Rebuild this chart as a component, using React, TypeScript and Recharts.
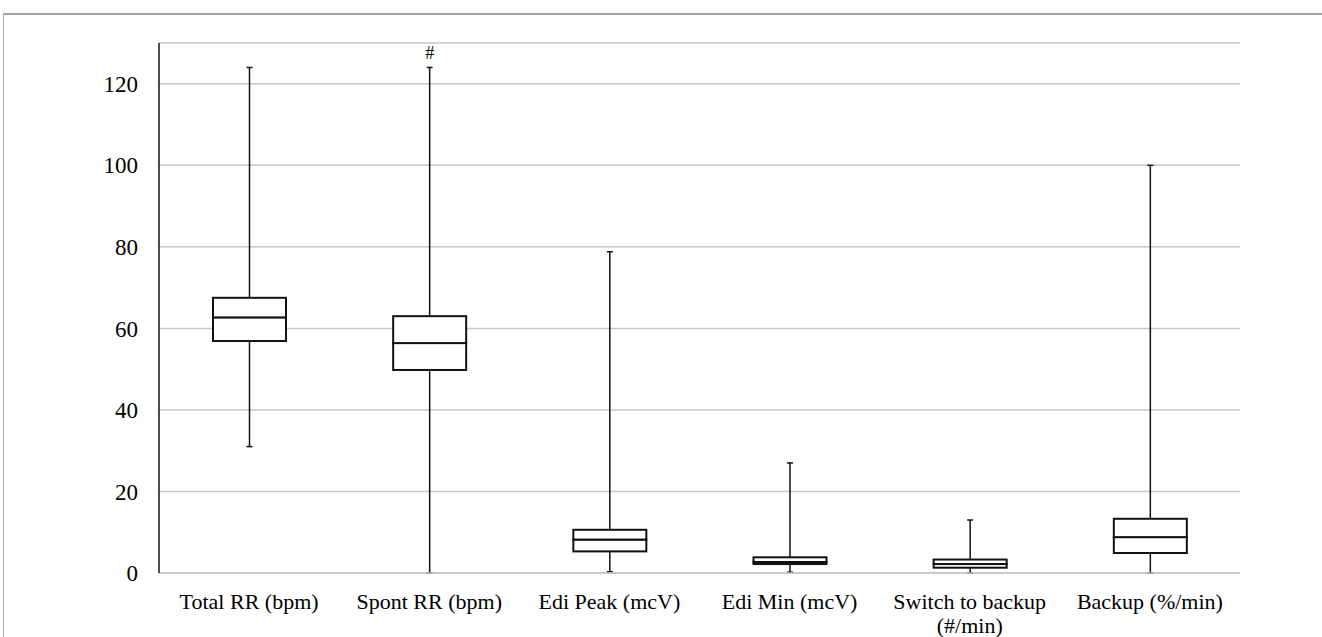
import { Bar, CartesianGrid, ComposedChart, LabelList, XAxis, YAxis } from "recharts";

const categories = [
  "Total RR (bpm)",
  "Spont RR (bpm)",
  "Edi Peak (mcV)",
  "Edi Min (mcV)",
  "Switch to backup\n(#/min)",
  "Backup (%/min)",
];
const mins = [31, 0, 0.3, 0.2, 0, 0];
const q1s = [56.9, 49.8, 5.3, 2.2, 1.3, 4.9];
const medians = [62.7, 56.4, 8.2, 2.7, 2.2, 8.8];
const q3s = [67.5, 63.0, 10.6, 3.85, 3.3, 13.3];
const maxs = [124, 124, 78.8, 27, 13, 100];
const marks = ["", "#", "", "", "", ""];
const yTicks = [0, 20, 40, 60, 80, 100, 120];

const FONT = '"Liberation Serif", "Times New Roman", serif';
const INK = "#111";
const GRID = "#c6c6c6";

const data = categories.map((name, i) => ({
  name,
  base: mins[i],
  lowWhisker: q1s[i] - mins[i],
  lowBox: medians[i] - q1s[i],
  highBox: q3s[i] - medians[i],
  highWhisker: maxs[i] - q3s[i],
  mark: marks[i],
}));

const CAP = 3;

function LowWhisker(props: any) {
  const { x, y, width, height } = props;
  const cx = x + width / 2;
  return (
    <g>
      <line x1={cx} x2={cx} y1={y} y2={y + height} stroke={INK} strokeWidth={1.5} />
      <line x1={cx - CAP} x2={cx + CAP} y1={y + height} y2={y + height} stroke={INK} strokeWidth={1.5} />
    </g>
  );
}

function HighWhisker(props: any) {
  const { x, y, width, height } = props;
  const cx = x + width / 2;
  return (
    <g>
      <line x1={cx} x2={cx} y1={y} y2={y + height} stroke={INK} strokeWidth={1.5} />
      <line x1={cx - CAP} x2={cx + CAP} y1={y} y2={y} stroke={INK} strokeWidth={1.5} />
    </g>
  );
}

function BoxPart(props: any) {
  const { x, y, width, height } = props;
  return <rect x={x} y={y} width={width} height={height} fill="#fff" stroke={INK} strokeWidth={2} />;
}

function CategoryTick(props: any) {
  const { x, y, payload } = props;
  const lines = String(payload.value).split("\n");
  return (
    <g>
      {lines.map((l, i) => (
        <text
          key={i}
          x={x}
          y={y + 36 + i * 24}
          textAnchor="middle"
          fill="#000"
          fontFamily={FONT}
          fontSize={22}
        >
          {l}
        </text>
      ))}
    </g>
  );
}

export default function App() {
  return (
    <div style={{ position: "absolute", left: 0, top: 0, width: 1322, height: 637, background: "#fff" }}>
      <div
        style={{
          position: "absolute",
          left: 3,
          top: 13,
          width: 1319,
          height: 624,
          borderTop: "2px solid #a3a3a3",
          borderLeft: "1px solid #b0b0b0",
        }}
      />
      <div style={{ position: "absolute", left: 0, top: 0 }}>
        <ComposedChart
          width={1322}
          height={637}
          data={data}
          margin={{ top: 43, right: 82, bottom: 4, left: 0 }}
        >
          <CartesianGrid vertical={false} stroke={GRID} strokeWidth={1.5} />
          <XAxis
            dataKey="name"
            height={60}
            axisLine={{ stroke: GRID, strokeWidth: 1.5 }}
            tickLine={false}
            tickSize={0}
            tickMargin={0}
            interval={0}
            tick={<CategoryTick />}
          />
          <YAxis
            width={159}
            domain={[0, 130]}
            ticks={yTicks}
            axisLine={{ stroke: INK, strokeWidth: 1.5 }}
            tickLine={false}
            tickSize={0}
            tickMargin={21}
            tick={{ fill: "#000", fontFamily: FONT, fontSize: 23 }}
          />
          <Bar dataKey="base" stackId="b" fill="transparent" barSize={73} isAnimationActive={false} />
          <Bar dataKey="lowWhisker" stackId="b" barSize={73} shape={<LowWhisker />} isAnimationActive={false} />
          <Bar dataKey="lowBox" stackId="b" barSize={73} shape={<BoxPart />} isAnimationActive={false} />
          <Bar dataKey="highBox" stackId="b" barSize={73} shape={<BoxPart />} isAnimationActive={false} />
          <Bar dataKey="highWhisker" stackId="b" barSize={73} shape={<HighWhisker />} isAnimationActive={false}>
            <LabelList
              dataKey="mark"
              position="top"
              offset={8}
              fill="#000"
              fontFamily={FONT}
              fontSize={18}
            />
          </Bar>
        </ComposedChart>
      </div>
    </div>
  );
}
